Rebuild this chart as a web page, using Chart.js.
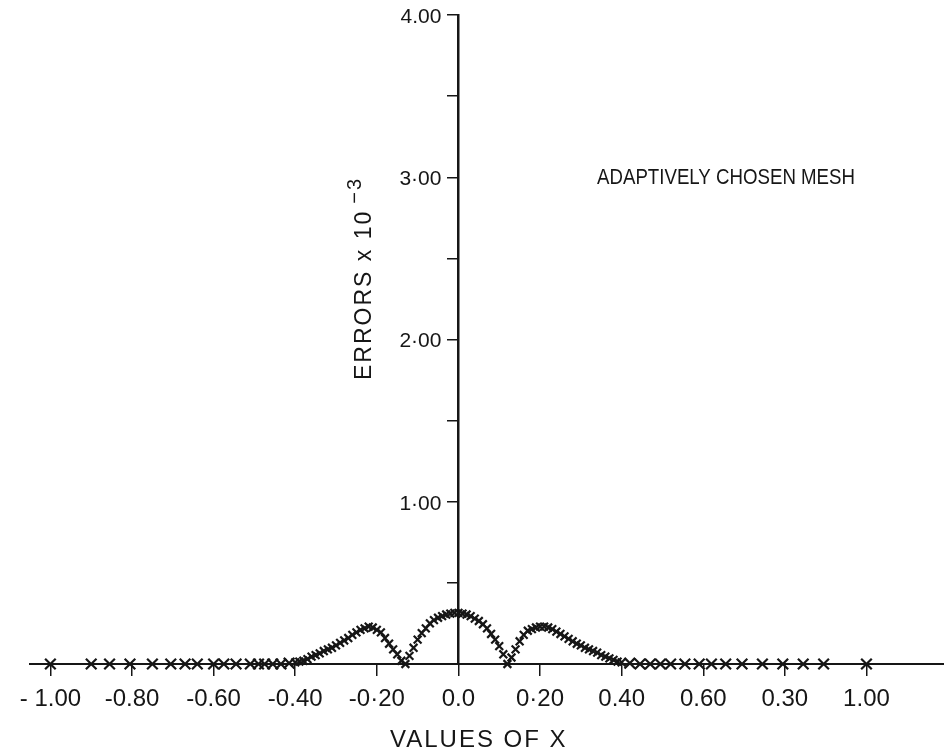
<!DOCTYPE html>
<html>
<head>
<meta charset="utf-8">
<title>Adaptively chosen mesh</title>
<script src="https://cdn.jsdelivr.net/npm/chart.js@4.4.0/dist/chart.umd.min.js"></script>
<style>
  html, body { margin: 0; padding: 0; background: #fff; }
  #chart { display: block; }
</style>
</head>
<body>
<canvas id="chart" width="944" height="755"></canvas>
<script>
// mesh points (values of x) and errors x 10^-3
var meshX = [
    -1.00, -0.90, -0.855, -0.805, -0.75, -0.705, -0.67, -0.64, -0.60, -0.575,
    -0.545, -0.51, -0.49, -0.475, -0.455, -0.435, -0.415,
    -0.40, -0.39, -0.38, -0.37, -0.36, -0.35, -0.34, -0.33, -0.32, -0.31,
    -0.30, -0.29, -0.28, -0.27, -0.26, -0.25, -0.24, -0.23, -0.22, -0.21,
    -0.20, -0.19, -0.18, -0.17, -0.16, -0.15, -0.14, -0.13, -0.12, -0.11,
    -0.10, -0.09, -0.08, -0.07, -0.06, -0.05, -0.04, -0.03, -0.02, -0.01,
    0.00, 0.01, 0.02, 0.03, 0.04, 0.05, 0.06, 0.07, 0.08, 0.09,
    0.10, 0.11, 0.12, 0.13, 0.14, 0.15, 0.16, 0.17, 0.18, 0.19,
    0.20, 0.21, 0.22, 0.23, 0.24, 0.25, 0.26, 0.27, 0.28, 0.29,
    0.30, 0.31, 0.32, 0.33, 0.34, 0.35, 0.36, 0.37, 0.38, 0.39, 0.40,
    0.42, 0.445, 0.47, 0.495, 0.52, 0.555, 0.59, 0.62, 0.655, 0.695,
    0.745, 0.795, 0.845, 0.895, 1.00
];
var meshErr = [
    0, 0, 0, 0, 0, 0, 0, 0, 0, 0,
    0, 0, 0, 0, 0, 0, 0.005,
    0.01, 0.015, 0.02, 0.03, 0.045, 0.055, 0.065, 0.08, 0.09, 0.10,
    0.115, 0.13, 0.145, 0.16, 0.18, 0.195, 0.21, 0.22, 0.23, 0.225,
    0.21, 0.195, 0.16, 0.125, 0.09, 0.06, 0.02, 0.0, 0.05, 0.10,
    0.15, 0.19, 0.22, 0.25, 0.27, 0.285, 0.295, 0.305, 0.31, 0.315,
    0.315, 0.31, 0.305, 0.295, 0.28, 0.265, 0.245, 0.22, 0.185, 0.15,
    0.11, 0.06, 0.0, 0.04, 0.09, 0.14, 0.18, 0.205, 0.215, 0.225,
    0.23, 0.23, 0.225, 0.215, 0.20, 0.185, 0.17, 0.155, 0.14, 0.125,
    0.115, 0.10, 0.09, 0.08, 0.07, 0.055, 0.045, 0.035, 0.025, 0.015, 0.01,
    0.005, 0, 0, 0, 0, 0, 0, 0, 0, 0,
    0, 0, 0, 0, 0
];

var xTickValues = [-1.0, -0.8, -0.6, -0.4, -0.2, 0.0, 0.2, 0.4, 0.6, 0.8, 1.0];
var xTickLabels = ['- 1.00', '-0.80', '-0.60', '-0.40', '-0·20', '0.0', '0·20', '0.40', '0.60', '0.30', '1.00'];
var yTickValues = [0.5, 1.0, 1.5, 2.0, 2.5, 3.0, 3.5, 4.0];
var yTickLabels = ['', '1·00', '', '2·00', '', '3·00', '', '4.00'];

var ink = '#161616';
var sans = '"Liberation Sans", Arial, sans-serif';

var points = meshX.map(function (x, i) {
    return { x: x, y: meshErr[i] };
});

// free text: y tick labels (left of the centred axis), annotation, axis titles
var labelsPlugin = {
    id: 'labels',
    afterDraw: function (chart) {
        var ctx = chart.ctx;
        var xs = chart.scales.x;
        var ys = chart.scales.y;
        ctx.save();
        ctx.fillStyle = ink;

        // y tick labels
        ctx.font = '21px ' + sans;
        ctx.textAlign = 'right';
        ctx.textBaseline = 'middle';
        var axisX = xs.getPixelForValue(0);
        yTickValues.forEach(function (v, i) {
            if (yTickLabels[i]) {
                ctx.fillText(yTickLabels[i], axisX - 17, ys.getPixelForValue(v) + 2);
            }
        });

        ctx.textAlign = 'left';
        ctx.textBaseline = 'alphabetic';

        // annotation, squeezed to the lettering width
        var note = 'ADAPTIVELY CHOSEN MESH';
        ctx.font = '22px ' + sans;
        var w = ctx.measureText(note).width;
        ctx.save();
        ctx.translate(597, 184);
        ctx.scale(258 / w, 1);
        ctx.fillText(note, 0, 0);
        ctx.restore();

        // x title
        ctx.save();
        ctx.font = '24px ' + sans;
        ctx.letterSpacing = '2px';
        ctx.fillText('VALUES OF X', 390, 747);
        ctx.restore();

        // y title, rotated, with superscript
        ctx.save();
        ctx.translate(371, 380);
        ctx.rotate(-Math.PI / 2);
        ctx.font = '23px ' + sans;
        ctx.letterSpacing = '2px';
        ctx.fillText('ERRORS x 10', 0, 0);
        var tw = ctx.measureText('ERRORS x 10').width;
        ctx.font = '20px ' + sans;
        ctx.fillText('\u22123', tw + 6, -10);
        ctx.restore();

        ctx.restore();
    }
};

var chart = new Chart(document.getElementById('chart'), {
    type: 'scatter',
    data: {
        datasets: [{
            label: 'Errors',
            data: points,
            showLine: false,
            clip: false,
            pointStyle: 'crossRot',
            pointRadius: function (c) {
                return Math.abs(c.raw.x) <= 0.405 ? 5.5 : 7.5;
            },
            pointBorderWidth: 2.2,
            pointBorderColor: ink,
            pointBackgroundColor: ink
        }]
    },
    options: {
        responsive: false,
        animation: false,
        devicePixelRatio: 1,
        layout: { autoPadding: false, padding: { left: 30, right: 0, top: 15, bottom: 31 } },
        plugins: {
            legend: { display: false },
            tooltip: { enabled: false }
        },
        scales: {
            x: {
                type: 'linear',
                position: 'bottom',
                min: -1.05,
                max: 1.19,
                border: { display: true, color: ink, width: 2 },
                grid: { drawOnChartArea: false, drawTicks: true, tickLength: 12, color: ink, lineWidth: 1.5 },
                afterBuildTicks: function (scale) {
                    scale.ticks = xTickValues.map(function (v) { return { value: v }; });
                },
                afterFit: function (scale) {
                    scale.height = 60;
                    scale.paddingLeft = 0;
                    scale.paddingRight = 0;
                },
                ticks: {
                    autoSkip: false,
                    maxRotation: 0,
                    padding: 9,
                    color: ink,
                    font: { family: sans, size: 24 },
                    callback: function (v, i) { return xTickLabels[i]; }
                }
            },
            y: {
                type: 'linear',
                position: { x: 0 },
                min: 0,
                max: 4,
                border: { display: true, color: ink, width: 2.5 },
                grid: { drawOnChartArea: false, drawTicks: true, tickLength: 10, color: ink, lineWidth: 1.5 },
                afterBuildTicks: function (scale) {
                    scale.ticks = yTickValues.map(function (v) { return { value: v }; });
                },
                ticks: { display: false }
            }
        }
    },
    plugins: [labelsPlugin]
});
</script>
</body>
</html>
